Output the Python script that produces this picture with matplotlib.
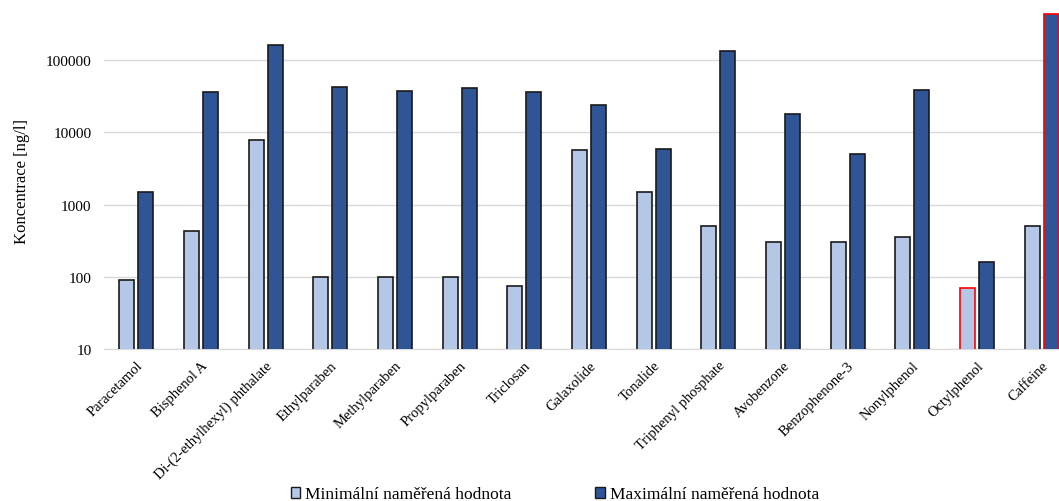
import numpy as np
import matplotlib
matplotlib.use("Agg")
import matplotlib.pyplot as plt
from matplotlib.patches import Patch

# Data (ng/l)
compounds = [
    "Paracetamol", "Bisphenol A", "Di-(2-ethylhexyl) phthalate", "Ethylparaben",
    "Methylparaben", "Propylparaben", "Triclosan", "Galaxolide", "Tonalide",
    "Triphenyl phosphate", "Avobenzone", "Benzophenone-3", "Nonylphenol",
    "Octylphenol", "Caffeine",
]
min_values = [91, 430, 7700, 100, 100, 100, 75, 5700, 1500, 500, 300, 300, 350, 70, 500]
max_values = [1500, 36500, 163000, 42000, 37500, 40500, 36500, 24000, 5900,
              134000, 17700, 5000, 38800, 160, 440000]
yticks = [10, 100, 1000, 10000, 100000]

min_label = "Minimální naměřená hodnota"
max_label = "Maximální naměřená hodnota"

light = "#B4C7E7"
dark = "#2F5597"

plt.rcParams['font.family'] = ['Liberation Serif', 'DejaVu Serif']

fig = plt.figure(figsize=(10.59, 5.02), dpi=100)
ax = fig.add_axes([0.0982, 0.3028, 0.916, 0.671])

x = np.arange(len(compounds))
bw = 0.232
off = 0.147

# highlighted bars get red outlines
min_edges = ['#1a1a1a'] * len(compounds)
max_edges = ['#1a1a1a'] * len(compounds)
min_edges[compounds.index("Octylphenol")] = 'red'
max_edges[compounds.index("Caffeine")] = 'red'

ax.bar(x - off, min_values, width=bw, color=light, edgecolor=min_edges, linewidth=1.2, zorder=3)
ax.bar(x + off, max_values, width=bw, color=dark, edgecolor=max_edges, linewidth=1.2, zorder=3)

ax.set_yscale('log')
ax.set_ylim(10, 4.6e5)
ax.set_xlim(-0.5, len(compounds) - 0.5)
ax.set_yticks(yticks)
ax.set_yticklabels([str(v) for v in yticks], fontsize=11)
ax.yaxis.set_minor_locator(matplotlib.ticker.NullLocator())
ax.tick_params(axis='y', length=0, pad=9)
ax.set_xticks(x)
ax.set_xticklabels(compounds, rotation=45, ha='right', va='top',
                   rotation_mode='anchor', fontsize=10.5)
ax.tick_params(axis='x', length=0, pad=7)

ax.grid(axis='y', color='#d9d9d9', linewidth=1, zorder=0)
for s in ['top', 'right', 'left']:
    ax.spines[s].set_visible(False)
ax.spines['bottom'].set_color('#d9d9d9')

ax.set_ylabel("Koncentrace [ng/l]", fontsize=12, labelpad=11)

handles = [Patch(facecolor=light, edgecolor='#1a1a1a', label=min_label),
           Patch(facecolor=dark, edgecolor='#1a1a1a', label=max_label)]
fig.legend(handles=handles, loc='center', bbox_to_anchor=(0.524, 0.013), ncol=2,
           frameon=False, fontsize=12.5, handlelength=0.55, handleheight=0.55,
           handletextpad=0.3, columnspacing=4.8, borderpad=0)

fig.savefig("out.png", dpi=100)
